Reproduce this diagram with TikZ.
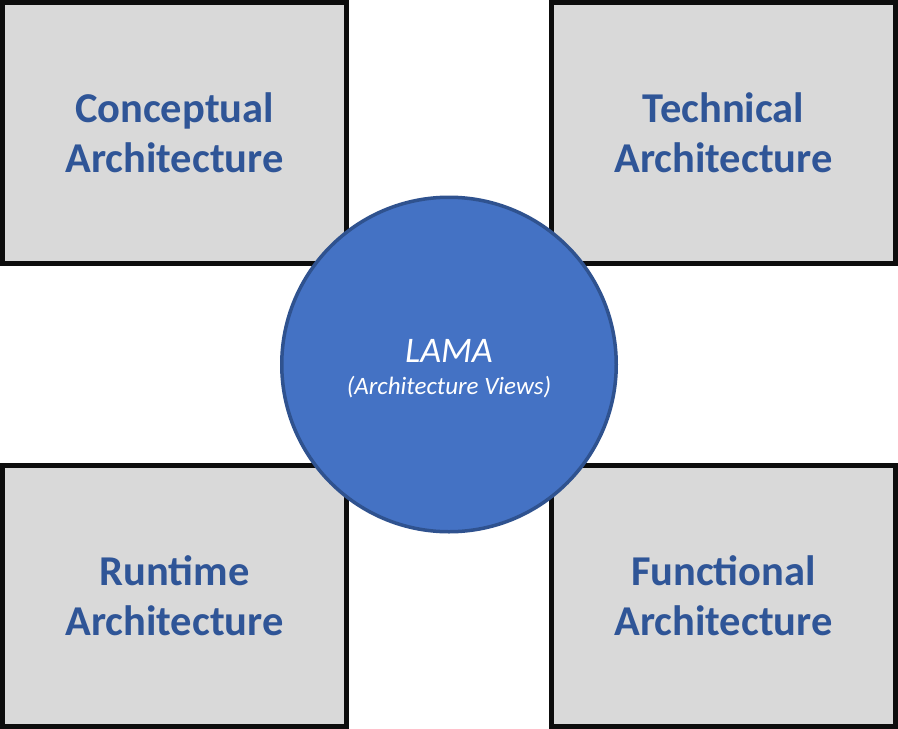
\documentclass[tikz,border=0pt]{standalone}
\usepackage{fontspec}
\setmainfont{Carlito}
\definecolor{boxfill}{HTML}{D9D9D9}
\definecolor{boxtext}{HTML}{2F5597}
\definecolor{circfill}{HTML}{4472C4}
\definecolor{circline}{HTML}{2F528F}
\begin{document}
\begin{tikzpicture}[x=1pt,y=-1pt,
  viewbox/.style={draw=black!95, line width=5pt, fill=boxfill, rectangle,
    minimum width=344pt, minimum height=261pt, inner sep=0pt},
  viewtext/.style={text=boxtext, font=\fontsize{42.5}{50}\selectfont\bfseries, align=center, anchor=base},
  hub/.style={circle, draw=circline, line width=3.5pt, fill=circfill, minimum size=334.5pt, inner sep=0pt},
]
\useasboundingbox (0,0) rectangle (898,729);
\node[viewbox] (tl) at (174.5,133) {};
\node[viewbox] (tr) at (723.5,133) {};
\node[viewbox] (bl) at (174.5,596) {};
\node[viewbox] (br) at (723.5,596) {};
\node[viewtext] (tlt) at (174.5,172) {Conceptual\\Architecture};
\node[viewtext] (trt) at (723.5,172) {Technical\\Architecture};
\node[viewtext] (blt) at (174.5,635) {Runtime\\Architecture};
\node[viewtext] (brt) at (723.5,635) {Functional\\Architecture};
\node[hub] (c) at (449,364.5) {};
\node[text=white, font=\fontsize{36}{40}\selectfont\itshape, anchor=base] (lama) at (449,362) {LAMA};
\node[text=white, font=\fontsize{25}{28}\selectfont\itshape, anchor=base] (views) at (449,394) {(Architecture Views)};
\end{tikzpicture}
\end{document}
